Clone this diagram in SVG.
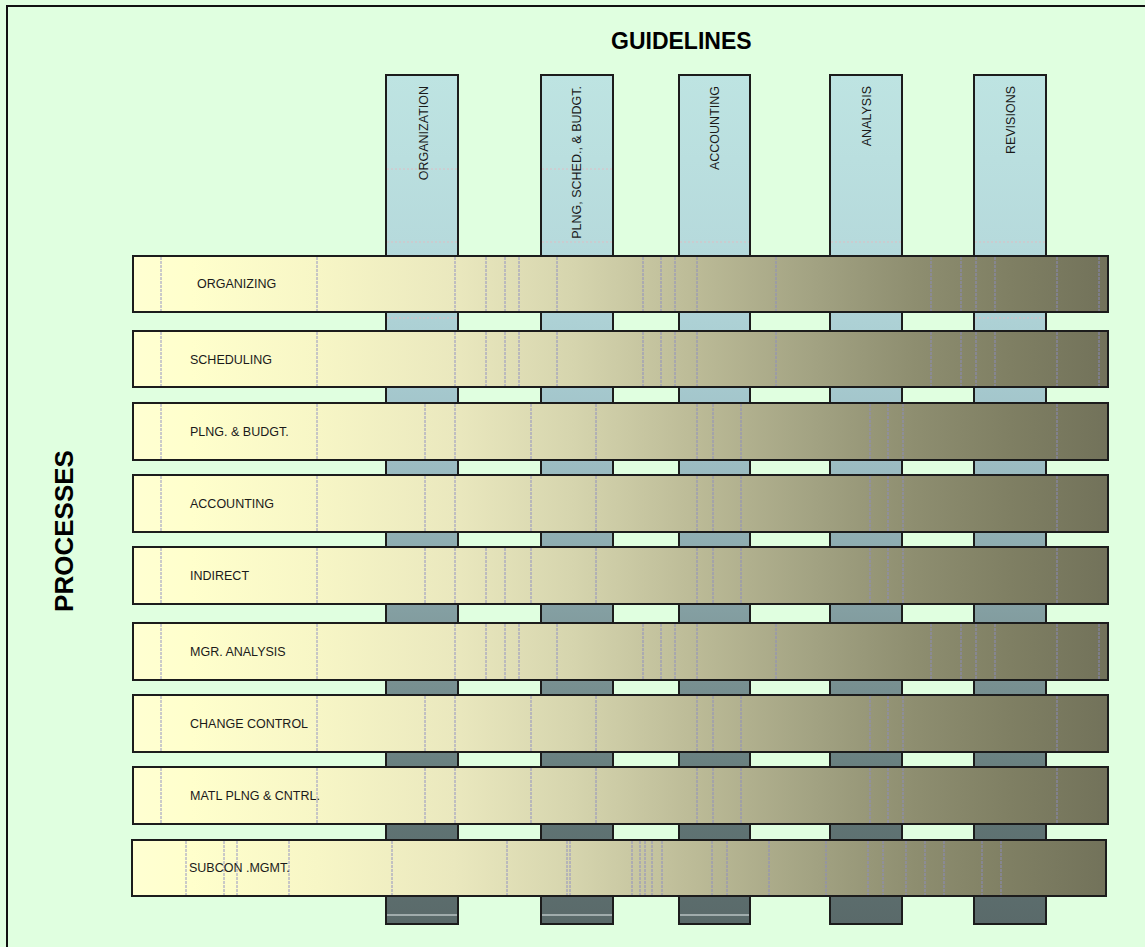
<svg xmlns="http://www.w3.org/2000/svg" width="1145" height="947" viewBox="0 0 1145 947">
  <defs>
    <linearGradient id="barFill" gradientUnits="userSpaceOnUse" x1="133" y1="0" x2="1108" y2="0">
      <stop offset="0" stop-color="#FFFFD2"/>
      <stop offset="0.06" stop-color="#FFFFCC"/>
      <stop offset="0.19" stop-color="#F7F6C6"/>
      <stop offset="0.33" stop-color="#EAE8BE"/>
      <stop offset="0.45" stop-color="#D6D5AE"/>
      <stop offset="0.57" stop-color="#BDBC98"/>
      <stop offset="0.70" stop-color="#A2A282"/>
      <stop offset="0.80" stop-color="#8E8E70"/>
      <stop offset="0.90" stop-color="#7F7F63"/>
      <stop offset="1" stop-color="#72725A"/>
    </linearGradient>
    <linearGradient id="colFill" gradientUnits="userSpaceOnUse" x1="0" y1="75" x2="0" y2="924">
      <stop offset="0" stop-color="#BEE4E2"/>
      <stop offset="0.2" stop-color="#B6DADC"/>
      <stop offset="0.33" stop-color="#A9CDD2"/>
      <stop offset="0.45" stop-color="#9DBEC4"/>
      <stop offset="0.58" stop-color="#8AA8AC"/>
      <stop offset="0.68" stop-color="#7E9698"/>
      <stop offset="0.78" stop-color="#6E8686"/>
      <stop offset="0.88" stop-color="#5F7373"/>
      <stop offset="1" stop-color="#5A6A6A"/>
    </linearGradient>
  </defs>
  <style>
    .col { fill: url(#colFill); stroke: #1c1c1c; stroke-width: 2; }
    .bar { fill: url(#barFill); stroke: #1c1c1c; stroke-width: 2; }
    .tick { stroke: #8C8CC4; stroke-width: 1; stroke-dasharray: 3 1; opacity: 0.9; }
    .hint { stroke: #E8B8C0; stroke-width: 1; stroke-dasharray: 2 2; opacity: 0.8; }
    .shine { stroke: #E6EEEE; stroke-width: 1.2; }
    .lbl { font-family: "Liberation Sans", Arial, sans-serif; font-size: 12.5px; fill: #1a1a1a; }
    .head { font-family: "Liberation Sans", Arial, sans-serif; font-size: 23px; font-weight: bold; fill: #000; }
    .side { font-size: 26px; }
  </style>

  <!-- page background and frame -->
  <rect x="0" y="0" width="1145" height="947" fill="#E0FFE0"/>
  <rect x="7" y="6" width="1150" height="950" fill="none" stroke="#111" stroke-width="2"/>

  <text class="head" x="611" y="49">GUIDELINES</text>
  <text class="head side" transform="translate(73,531) rotate(-90)" text-anchor="middle">PROCESSES</text>

  <!-- guideline columns (drawn beneath the process bars) -->
  <g id="guidelines">
    <g id="col-organization">
      <rect class="col" x="386" y="75" width="72" height="849"/>
      <line class="hint" x1="387" y1="169" x2="457" y2="169"/>
      <line class="hint" x1="387" y1="242" x2="457" y2="242"/>
      <line class="hint" x1="387" y1="318" x2="457" y2="318"/>
      <line class="shine" x1="387" y1="915" x2="457" y2="915"/>
      <text class="lbl" transform="translate(427.5,86) rotate(-90)" text-anchor="end">ORGANIZATION</text>
    </g>
    <g id="col-plng">
      <rect class="col" x="541" y="75" width="72" height="849"/>
      <line class="hint" x1="542" y1="169" x2="612" y2="169"/>
      <line class="hint" x1="542" y1="242" x2="612" y2="242"/>
      <line class="shine" x1="542" y1="915" x2="612" y2="915"/>
      <text class="lbl" transform="translate(581,86) rotate(-90)" text-anchor="end">PLNG, SCHED., &amp; BUDGT.</text>
    </g>
    <g id="col-accounting">
      <rect class="col" x="679" y="75" width="71" height="849"/>
      <line class="hint" x1="680" y1="242" x2="749" y2="242"/>
      <line class="shine" x1="680" y1="915" x2="749" y2="915"/>
      <text class="lbl" transform="translate(719,86) rotate(-90)" text-anchor="end">ACCOUNTING</text>
    </g>
    <g id="col-analysis">
      <rect class="col" x="830" y="75" width="72" height="849"/>
      <line class="hint" x1="831" y1="242" x2="901" y2="242"/>
      <text class="lbl" transform="translate(870.5,86) rotate(-90)" text-anchor="end">ANALYSIS</text>
    </g>
    <g id="col-revisions">
      <rect class="col" x="974" y="75" width="72" height="849"/>
      <line class="hint" x1="975" y1="242" x2="1045" y2="242"/>
      <line class="hint" x1="975" y1="318" x2="1045" y2="318"/>
      <text class="lbl" transform="translate(1014.5,86) rotate(-90)" text-anchor="end">REVISIONS</text>
    </g>
  </g>

  <!-- process bars -->
  <g id="processes">
    <g id="bar-organizing">
      <rect class="bar" x="133" y="256" width="975" height="56"/>
      <path class="tick" d="M161 257V311M317 257V311M455 257V311M486 257V311M505 257V311M519 257V311M557 257V311M643 257V311M661 257V311M675 257V311M697 257V311M776 257V311M931 257V311M961 257V311M976 257V311M995 257V311M1057 257V311M1099 257V311"/>
      <text class="lbl" x="197" y="288">ORGANIZING</text>
    </g>
    <g id="bar-scheduling">
      <rect class="bar" x="133" y="331" width="975" height="56"/>
      <path class="tick" d="M161 332V386M317 332V386M455 332V386M486 332V386M505 332V386M519 332V386M557 332V386M643 332V386M661 332V386M675 332V386M697 332V386M776 332V386M931 332V386M961 332V386M976 332V386M995 332V386M1057 332V386M1099 332V386"/>
      <text class="lbl" x="190" y="364">SCHEDULING</text>
    </g>
    <g id="bar-plng">
      <rect class="bar" x="133" y="403" width="975" height="57"/>
      <path class="tick" d="M161 404V459M317 404V459M425 404V459M455 404V459M531 404V459M596 404V459M697 404V459M713 404V459M741 404V459M870 404V459M888 404V459M903 404V459M1057 404V459"/>
      <text class="lbl" x="190" y="436">PLNG. &amp; BUDGT.</text>
    </g>
    <g id="bar-accounting">
      <rect class="bar" x="133" y="475" width="975" height="57"/>
      <path class="tick" d="M161 476V531M317 476V531M425 476V531M455 476V531M531 476V531M596 476V531M697 476V531M713 476V531M741 476V531M870 476V531M888 476V531M903 476V531M1057 476V531"/>
      <text class="lbl" x="190" y="508">ACCOUNTING</text>
    </g>
    <g id="bar-indirect">
      <rect class="bar" x="133" y="547" width="975" height="57"/>
      <path class="tick" d="M161 548V603M317 548V603M425 548V603M455 548V603M486 548V603M505 548V603M531 548V603M596 548V603M697 548V603M713 548V603M741 548V603M870 548V603M888 548V603M903 548V603M1057 548V603"/>
      <text class="lbl" x="190" y="580">INDIRECT</text>
    </g>
    <g id="bar-mgr-analysis">
      <rect class="bar" x="133" y="623" width="975" height="57"/>
      <path class="tick" d="M161 624V679M317 624V679M455 624V679M486 624V679M505 624V679M519 624V679M557 624V679M643 624V679M661 624V679M675 624V679M697 624V679M776 624V679M931 624V679M961 624V679M976 624V679M995 624V679M1057 624V679M1099 624V679"/>
      <text class="lbl" x="190" y="656">MGR. ANALYSIS</text>
    </g>
    <g id="bar-change-control">
      <rect class="bar" x="133" y="695" width="975" height="57"/>
      <path class="tick" d="M161 696V751M317 696V751M425 696V751M455 696V751M531 696V751M596 696V751M697 696V751M713 696V751M741 696V751M870 696V751M888 696V751M903 696V751M1057 696V751"/>
      <text class="lbl" x="190" y="728">CHANGE CONTROL</text>
    </g>
    <g id="bar-matl">
      <rect class="bar" x="133" y="767" width="975" height="57"/>
      <path class="tick" d="M161 768V823M317 768V823M425 768V823M455 768V823M531 768V823M596 768V823M697 768V823M713 768V823M741 768V823M870 768V823M888 768V823M903 768V823M1057 768V823"/>
      <text class="lbl" x="190" y="800">MATL PLNG &amp; CNTRL.</text>
    </g>
    <g id="bar-subcon">
      <rect class="bar" x="132" y="840" width="974" height="56"/>
      <path class="tick" d="M186 841V895M224 841V895M237 841V895M289 841V895M392 841V895M507 841V895M567 841V895M570 841V895M632 841V895M640 841V895M645 841V895M652 841V895M662 841V895M712 841V895M727 841V895M769 841V895M826 841V895M868 841V895M883 841V895M906 841V895M925 841V895M944 841V895M982 841V895M1001 841V895"/>
      <text class="lbl" x="189" y="872">SUBCON .MGMT.</text>
    </g>
  </g>
</svg>
